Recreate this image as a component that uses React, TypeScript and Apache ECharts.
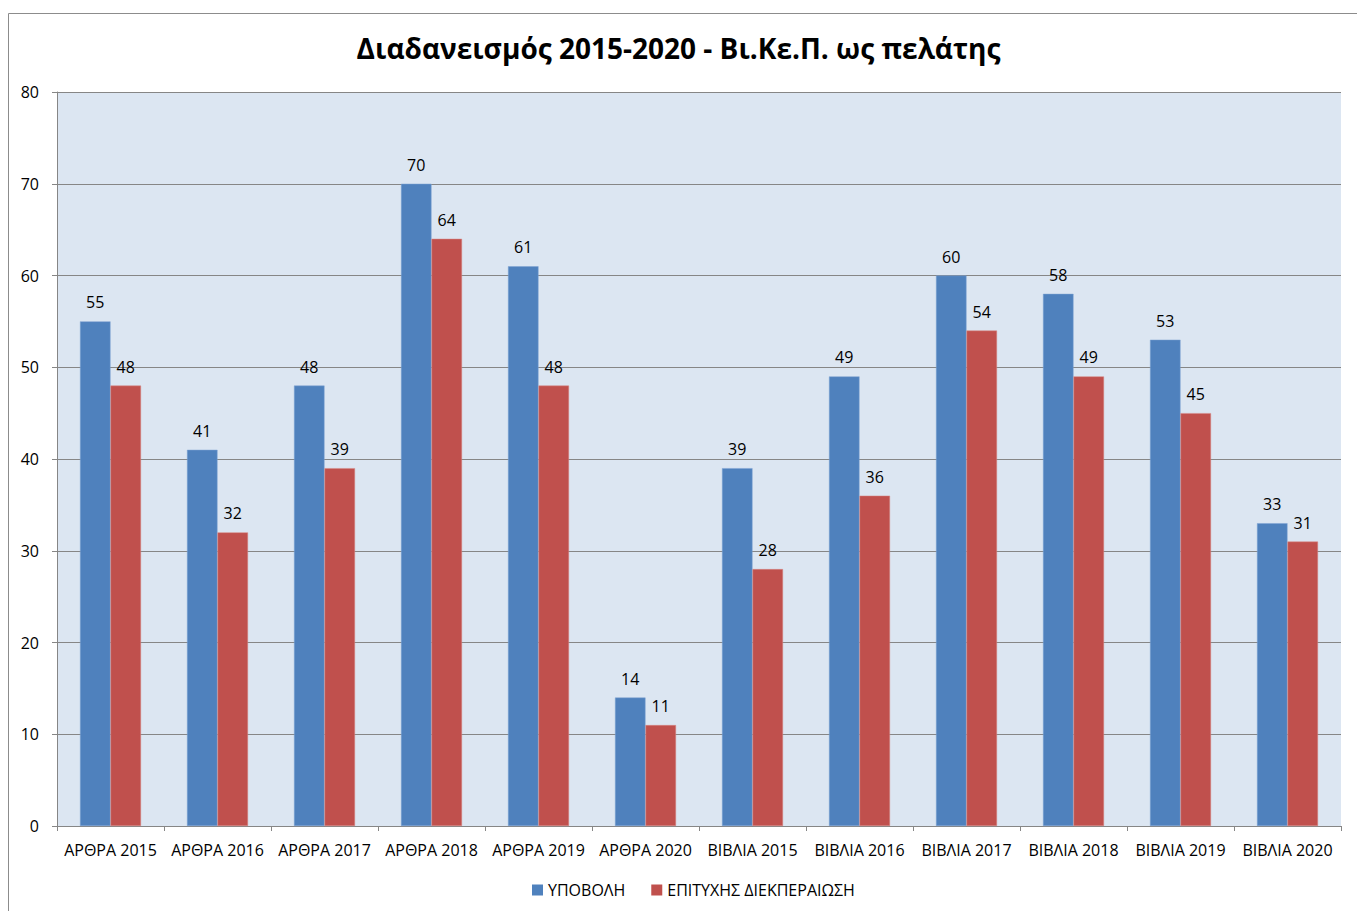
import React, { useEffect, useRef } from "react";
import * as echarts from "echarts";

const categories = [
  "ΑΡΘΡΑ 2015", "ΑΡΘΡΑ 2016", "ΑΡΘΡΑ 2017", "ΑΡΘΡΑ 2018", "ΑΡΘΡΑ 2019", "ΑΡΘΡΑ 2020",
  "ΒΙΒΛΙΑ 2015", "ΒΙΒΛΙΑ 2016", "ΒΙΒΛΙΑ 2017", "ΒΙΒΛΙΑ 2018", "ΒΙΒΛΙΑ 2019", "ΒΙΒΛΙΑ 2020",
];
const submitted = [55, 41, 48, 70, 61, 14, 39, 49, 60, 58, 53, 33];
const completed = [48, 32, 39, 64, 48, 11, 28, 36, 54, 49, 45, 31];
const seriesNames = ["ΥΠΟΒΟΛΗ", "ΕΠΙΤΥΧΗΣ ΔΙΕΚΠΕΡΑΙΩΣΗ"];
const titleText = "Διαδανεισμός 2015-2020 - Βι.Κε.Π. ως πελάτης";

const FONT = "'Open Sans', 'Noto Sans', sans-serif";

export default function App() {
  const ref = useRef<HTMLDivElement>(null);
  useEffect(() => {
    if (!ref.current) return;
    const chart = echarts.init(ref.current, undefined, { renderer: "svg" });
    const labelStyle = {
      show: true,
      position: "top" as const,
      distance: 11,
      fontSize: 16,
      color: "#000",
      fontFamily: FONT,
    };
    chart.setOption({
      animation: false,
      backgroundColor: "#fff",
      textStyle: { fontFamily: FONT },
      title: {
        text: titleText,
        left: "center",
        top: 29,
        textStyle: { fontSize: 28, fontWeight: "bold", color: "#000", fontFamily: FONT },
      },
      graphic: [
        {
          type: "rect",
          shape: { x: 8.5, y: 13.5, width: 1400, height: 1000 },
          style: { fill: "none", stroke: "#8c8c8c", lineWidth: 1 },
          silent: true,
          z: -1,
        },
      ],
      legend: {
        data: seriesNames,
        bottom: 8,
        left: 527,
        icon: "rect",
        itemWidth: 11,
        itemHeight: 11,
        itemGap: 26,
        itemStyle: { borderWidth: 0 },
        textStyle: { fontSize: 16, color: "#000", fontFamily: FONT },
      },
      grid: {
        left: 57,
        right: 16,
        top: 92,
        bottom: 85,
        show: true,
        backgroundColor: "#DCE6F2",
        borderWidth: 0,
      },
      xAxis: {
        type: "category",
        data: categories,
        axisLine: { show: true, lineStyle: { color: "#868686", width: 1 } },
        axisTick: { show: true, alignWithLabel: false, length: 5, lineStyle: { color: "#868686" } },
        axisLabel: { fontSize: 16, color: "#000", margin: 16, fontFamily: FONT, interval: 0 },
      },
      yAxis: {
        type: "value",
        min: 0,
        max: 80,
        interval: 10,
        axisLine: { show: true, lineStyle: { color: "#868686", width: 1 } },
        axisTick: { show: true, length: 5, lineStyle: { color: "#868686" } },
        axisLabel: { fontSize: 16, color: "#000", margin: 18, fontFamily: FONT },
        splitLine: { show: true, lineStyle: { color: "#868686", width: 1 } },
      },
      series: [
        {
          name: seriesNames[0],
          type: "bar",
          data: submitted,
          barGap: "0%",
          barCategoryGap: "43%",
          itemStyle: { color: "#4F81BD", borderColor: "#7fa3d3", borderWidth: 0.5 },
          label: labelStyle,
        },
        {
          name: seriesNames[1],
          type: "bar",
          data: completed,
          barGap: "0%",
          barCategoryGap: "43%",
          itemStyle: { color: "#C0504D", borderColor: "#d98683", borderWidth: 0.5 },
          label: labelStyle,
        },
      ],
    });
    return () => chart.dispose();
  }, []);
  return (
    <div
      ref={ref}
      style={{ position: "absolute", left: 0, top: 0, width: 1357, height: 911 }}
    />
  );
}
